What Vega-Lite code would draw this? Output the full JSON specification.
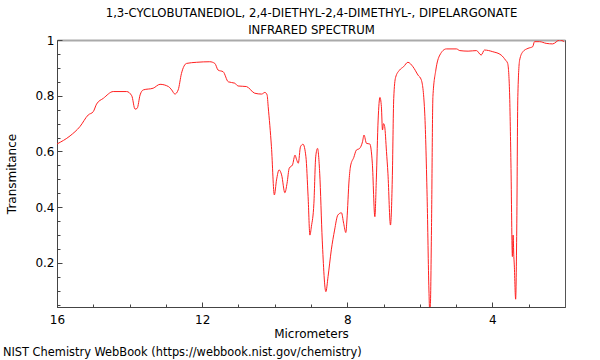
{
  "$schema": "https://vega.github.io/schema/vega-lite/v6.json",
  "width": 508,
  "height": 267,
  "autosize": {"type": "none"},
  "padding": {"left": 57, "top": 40, "right": 35, "bottom": 53},
  "background": "white",
  "config": {
    "font": "DejaVu Sans",
    "view": {"stroke": "#555", "strokeWidth": 1},
    "axis": {"grid": false, "labelFont": "DejaVu Sans", "titleFont": "DejaVu Sans", "labelFontSize": 12, "titleFontSize": 12, "titleFontWeight": "normal", "labelColor": "#000", "titleColor": "#000", "domainColor": "#444", "tickColor": "#444", "labelFlush": false}
  },
  "title": {"text": "NIST Chemistry WebBook (https://webbook.nist.gov/chemistry)", "orient": "bottom", "anchor": "start", "frame": "bounds", "fontSize": 11.4, "fontWeight": "normal", "font": "DejaVu Sans", "color": "#000", "offset": 8, "dx": -3},
  "data": {"values": [
    {"um": 16.0, "t": 0.627}, {"um": 15.64, "t": 0.656}, {"um": 15.37, "t": 0.689}, {"um": 15.14, "t": 0.731}, {"um": 15.0, "t": 0.743},
    {"um": 14.91, "t": 0.77}, {"um": 14.72, "t": 0.791}, {"um": 14.45, "t": 0.815}, {"um": 14.08, "t": 0.815}, {"um": 13.94, "t": 0.8},
    {"um": 13.85, "t": 0.752}, {"um": 13.79, "t": 0.755}, {"um": 13.71, "t": 0.803}, {"um": 13.62, "t": 0.821}, {"um": 13.35, "t": 0.827},
    {"um": 13.16, "t": 0.841}, {"um": 12.93, "t": 0.833}, {"um": 12.84, "t": 0.821}, {"um": 12.75, "t": 0.806}, {"um": 12.66, "t": 0.821},
    {"um": 12.57, "t": 0.88}, {"um": 12.43, "t": 0.916}, {"um": 12.15, "t": 0.92}, {"um": 11.79, "t": 0.922}, {"um": 11.65, "t": 0.916},
    {"um": 11.56, "t": 0.892}, {"um": 11.42, "t": 0.886}, {"um": 11.28, "t": 0.85}, {"um": 11.1, "t": 0.845}, {"um": 11.01, "t": 0.835},
    {"um": 10.78, "t": 0.833}, {"um": 10.55, "t": 0.809}, {"um": 10.36, "t": 0.806}, {"um": 10.27, "t": 0.812}, {"um": 10.21, "t": 0.803},
    {"um": 10.18, "t": 0.761}, {"um": 10.09, "t": 0.617}, {"um": 10.01, "t": 0.444}, {"um": 9.95, "t": 0.498}, {"um": 9.88, "t": 0.534},
    {"um": 9.81, "t": 0.516}, {"um": 9.72, "t": 0.452}, {"um": 9.66, "t": 0.486}, {"um": 9.6, "t": 0.54}, {"um": 9.51, "t": 0.552},
    {"um": 9.44, "t": 0.587}, {"um": 9.4, "t": 0.572}, {"um": 9.35, "t": 0.558}, {"um": 9.29, "t": 0.617}, {"um": 9.22, "t": 0.626},
    {"um": 9.14, "t": 0.581}, {"um": 9.08, "t": 0.438}, {"um": 9.03, "t": 0.3}, {"um": 8.99, "t": 0.33}, {"um": 8.92, "t": 0.414},
    {"um": 8.87, "t": 0.581}, {"um": 8.82, "t": 0.611}, {"um": 8.76, "t": 0.522}, {"um": 8.69, "t": 0.282}, {"um": 8.59, "t": 0.097},
    {"um": 8.53, "t": 0.151}, {"um": 8.44, "t": 0.247}, {"um": 8.35, "t": 0.318}, {"um": 8.26, "t": 0.372}, {"um": 8.16, "t": 0.38},
    {"um": 8.1, "t": 0.342}, {"um": 8.04, "t": 0.309}, {"um": 8.01, "t": 0.354}, {"um": 7.95, "t": 0.498}, {"um": 7.91, "t": 0.548},
    {"um": 7.82, "t": 0.579}, {"um": 7.75, "t": 0.605}, {"um": 7.66, "t": 0.611}, {"um": 7.58, "t": 0.635}, {"um": 7.54, "t": 0.659},
    {"um": 7.47, "t": 0.629}, {"um": 7.38, "t": 0.627}, {"um": 7.31, "t": 0.558}, {"um": 7.24, "t": 0.366}, {"um": 7.2, "t": 0.498},
    {"um": 7.15, "t": 0.713}, {"um": 7.1, "t": 0.794}, {"um": 7.06, "t": 0.761}, {"um": 7.03, "t": 0.677}, {"um": 7.0, "t": 0.7},
    {"um": 6.97, "t": 0.69}, {"um": 6.92, "t": 0.6}, {"um": 6.88, "t": 0.522}, {"um": 6.81, "t": 0.336}, {"um": 6.76, "t": 0.498},
    {"um": 6.72, "t": 0.79}, {"um": 6.67, "t": 0.865}, {"um": 6.56, "t": 0.892}, {"um": 6.45, "t": 0.904}, {"um": 6.33, "t": 0.92},
    {"um": 6.19, "t": 0.904}, {"um": 6.05, "t": 0.874}, {"um": 5.96, "t": 0.857}, {"um": 5.87, "t": 0.749}, {"um": 5.8, "t": 0.438},
    {"um": 5.75, "t": 0.103}, {"um": 5.73, "t": 0.03}, {"um": 5.71, "t": 0.05}, {"um": 5.68, "t": 0.318}, {"um": 5.64, "t": 0.797},
    {"um": 5.56, "t": 0.892}, {"um": 5.45, "t": 0.946}, {"um": 5.27, "t": 0.968}, {"um": 4.99, "t": 0.968}, {"um": 4.9, "t": 0.962},
    {"um": 4.67, "t": 0.96}, {"um": 4.44, "t": 0.962}, {"um": 4.31, "t": 0.946}, {"um": 4.22, "t": 0.964}, {"um": 3.99, "t": 0.958},
    {"um": 3.76, "t": 0.946}, {"um": 3.64, "t": 0.928}, {"um": 3.58, "t": 0.916}, {"um": 3.53, "t": 0.821}, {"um": 3.49, "t": 0.559},
    {"um": 3.45, "t": 0.223}, {"um": 3.43, "t": 0.3}, {"um": 3.41, "t": 0.223}, {"um": 3.4, "t": 0.2}, {"um": 3.36, "t": 0.07},
    {"um": 3.33, "t": 0.318}, {"um": 3.3, "t": 0.797}, {"um": 3.25, "t": 0.928}, {"um": 3.16, "t": 0.958}, {"um": 3.02, "t": 0.97},
    {"um": 2.89, "t": 0.976}, {"um": 2.84, "t": 0.994}, {"um": 2.7, "t": 0.994}, {"um": 2.52, "t": 0.988}, {"um": 2.34, "t": 0.986},
    {"um": 2.15, "t": 1.0}, {"um": 2.02, "t": 0.994}
  ]},
  "layer": [
    {
      "mark": {"type": "line", "color": "#ff2020", "strokeWidth": 1, "clip": true, "interpolate": "monotone"},
      "encoding": {
        "x": {"field": "um", "type": "quantitative", "scale": {"domain": [2, 16], "reverse": true, "nice": false, "zero": false},
          "axis": {"orient": "bottom", "title": "Micrometers", "values": [4, 8, 12, 16], "format": "d",
            "tickSize": -5, "labelPadding": 12, "titlePadding": 3}},
        "y": {"field": "t", "type": "quantitative", "scale": {"domain": [0.042, 1], "nice": false, "zero": false},
          "axis": {"orient": "left", "title": "Transmitance", "values": [0.2, 0.4, 0.6, 0.8, 1], "format": "~g",
            "tickSize": -5, "labelPadding": 8, "titlePadding": 16}}
      }
    },
    {
      "mark": {"type": "line", "opacity": 0},
      "encoding": {
        "x": {"field": "um", "type": "quantitative",
          "axis": {"orient": "top", "title": ["1,3-CYCLOBUTANEDIOL, 2,4-DIETHYL-2,4-DIMETHYL-, DIPELARGONATE", "INFRARED SPECTRUM"],
            "labels": false, "ticks": false, "domainColor": "#aaa", "domainWidth": 2, "titlePadding": 5, "titleLineHeight": 17, "titleFontSize": 11.7}},
        "y": {"field": "t", "type": "quantitative",
          "axis": {"orient": "right", "title": null, "labels": false, "ticks": false, "domainColor": "#555"}}
      }
    },
    {
      "mark": {"type": "line", "opacity": 0},
      "encoding": {
        "x": {"field": "um", "type": "quantitative",
          "axis": {"orient": "bottom", "title": null, "labels": false, "domain": false, "tickSize": -3,
            "values": [3, 5, 6, 7, 9, 10, 11, 13, 14, 15]}},
        "y": {"field": "t", "type": "quantitative",
          "axis": {"orient": "left", "title": null, "labels": false, "domain": false, "tickSize": -3,
            "values": [0.05, 0.1, 0.15, 0.25, 0.3, 0.35, 0.45, 0.5, 0.55, 0.65, 0.7, 0.75, 0.85, 0.9, 0.95]}}
      }
    }
  ],
  "resolve": {"axis": {"x": "independent", "y": "independent"}}
}
